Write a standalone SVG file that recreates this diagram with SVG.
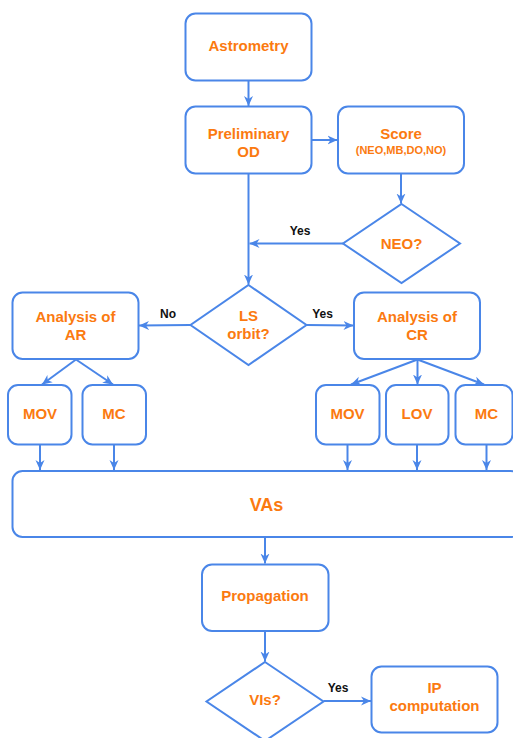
<svg xmlns="http://www.w3.org/2000/svg" width="513" height="738" viewBox="0 0 513 738">
<defs>
<style>
.box{fill:#fff;stroke:#4a86e8;stroke-width:2}
.t{font-family:"Liberation Sans",Arial,sans-serif;font-weight:bold;font-size:15px;fill:#fb7a10;text-anchor:middle}
.s{font-size:11px}
.big{font-size:18px}
.lbl{font-family:"Liberation Sans",Arial,sans-serif;font-weight:bold;font-size:12px;fill:#111;text-anchor:middle}
.c{fill:none;stroke:#4a86e8;stroke-width:2;marker-end:url(#ah)}
</style>
<marker id="ah" markerUnits="userSpaceOnUse" markerWidth="10" markerHeight="10" viewBox="0 0 10 10" refX="10" refY="5" orient="auto">
<path d="M0,0.5 L10,5 L0,9.5 L3,5 z" fill="#4a86e8"/>
</marker>
</defs>
<rect width="513" height="738" fill="#fff"/>
<g id="connectors">
<path class="c" d="M248.5,80.5 V106"/>
<path class="c" d="M311.5,140 H337.5"/>
<path class="c" d="M401,173.5 V203.5"/>
<path class="c" d="M343,243.5 H249.5"/>
<path class="c" d="M248.5,173.5 V284.5"/>
<path class="c" d="M190,325 L139,325.5"/>
<path class="c" d="M306.5,325 L353.5,325.5"/>
<path class="c" d="M76,359.5 L42,384.5"/>
<path class="c" d="M76,359.5 L113,384.5"/>
<path class="c" d="M417.5,359.5 L351,384.5"/>
<path class="c" d="M417.5,359.5 V384.5"/>
<path class="c" d="M417.5,359.5 L484,384.5"/>
<path class="c" d="M40,444.5 V470"/>
<path class="c" d="M114,444.5 V470"/>
<path class="c" d="M347.5,444.5 V470"/>
<path class="c" d="M417,444.5 V470"/>
<path class="c" d="M486.5,444.5 V470"/>
<path class="c" d="M265,537 V563.5"/>
<path class="c" d="M265,631 V661.5"/>
<path class="c" d="M323.5,701 H371"/>
<text class="lbl" x="300" y="235">Yes</text>
<text class="lbl" x="168" y="318">No</text>
<text class="lbl" x="322.5" y="318">Yes</text>
<text class="lbl" x="338" y="692">Yes</text>
</g>
<g id="astrometry"><rect class="box" x="185.5" y="13.5" width="126" height="67" rx="10"/><text class="t" x="248.5" y="50.5">Astrometry</text></g>
<g id="preliminary-od"><rect class="box" x="185.5" y="106.5" width="126" height="67" rx="10"/><text class="t" x="248.5" y="138.5">Preliminary</text><text class="t" x="248.5" y="157">OD</text></g>
<g id="score"><rect class="box" x="338" y="106.5" width="126" height="67" rx="10"/><text class="t" x="401" y="139">Score</text><text class="t s" x="401" y="153.5">(NEO,MB,DO,NO)</text></g>
<g id="neo"><path class="box" d="M401.5,204 L460,243.5 L401.5,283 L343,243.5 Z"/><text class="t" x="401.5" y="249">NEO?</text></g>
<g id="ls-orbit"><path class="box" d="M248.5,285 L306.5,325 L248.5,365 L190.5,325 Z"/><text class="t" x="248.5" y="321">LS</text><text class="t" x="248.5" y="339">orbit?</text></g>
<g id="analysis-ar"><rect class="box" x="12.5" y="292.5" width="126" height="66.5" rx="10"/><text class="t" x="75.5" y="322">Analysis of</text><text class="t" x="75.5" y="340">AR</text></g>
<g id="analysis-cr"><rect class="box" x="354" y="292.5" width="126" height="66.5" rx="10"/><text class="t" x="417" y="322">Analysis of</text><text class="t" x="417" y="340">CR</text></g>
<g id="mov-ar"><rect class="box" x="8" y="385" width="63.5" height="59.5" rx="10"/><text class="t" x="40" y="418.5">MOV</text></g>
<g id="mc-ar"><rect class="box" x="82.5" y="385" width="63.5" height="59.5" rx="10"/><text class="t" x="114" y="418.5">MC</text></g>
<g id="mov-cr"><rect class="box" x="316" y="385" width="63.5" height="59.5" rx="10"/><text class="t" x="347.5" y="418.5">MOV</text></g>
<g id="lov-cr"><rect class="box" x="386" y="385" width="62.5" height="59.5" rx="10"/><text class="t" x="417" y="418.5">LOV</text></g>
<g id="mc-cr"><rect class="box" x="455.5" y="385" width="57" height="59.5" rx="10"/><text class="t" x="486.5" y="418.5">MC</text></g>
<g id="vas"><rect class="box" x="12.5" y="471" width="508" height="66" rx="10"/><text class="t big" x="266.5" y="511">VAs</text></g>
<g id="propagation"><rect class="box" x="202" y="564.5" width="126.5" height="66.5" rx="10"/><text class="t" x="265" y="601">Propagation</text></g>
<g id="vis"><path class="box" d="M265,662 L323.5,701.5 L265,741 L206.5,701.5 Z"/><text class="t" x="265" y="704.5">VIs?</text></g>
<g id="ip-computation"><rect class="box" x="371.5" y="666.5" width="126" height="66" rx="10"/><text class="t" x="434.5" y="692.5">IP</text><text class="t" x="434.5" y="711">computation</text></g>
</svg>
